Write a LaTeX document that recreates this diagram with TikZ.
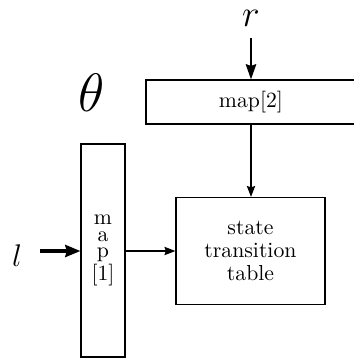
\documentclass[tikz,border=0pt]{standalone}
\usetikzlibrary{arrows.meta,positioning}
\tikzset{
  every picture/.style={line width=0.6pt, line join=miter,
    >={Stealth[length=5pt,width=3.8pt,inset=0.6pt]}},
  % Bausteine
  blk/.style={draw, inner sep=0pt, align=center,
    font=\fontsize{10}{10.5}\selectfont},
  col/.style={blk, font=\fontsize{10}{7.6}\selectfont},
  sym/.style={anchor=base, inner sep=0pt},
  % Pfeile
  flow/.style={->},
  feed/.style={->, line width=0.9pt, >={Stealth[length=7pt,width=4.8pt,inset=0.8pt]}},
  inlet/.style={->, line width=1.4pt, >={Stealth[length=7pt,width=5.6pt,inset=0.8pt]}},
}
\begin{document}
\begin{tikzpicture}[x=0.46pt, y=-0.46pt]
  \useasboundingbox (0,0) rectangle (354,359);
  \clip (0,0) rectangle (354,359);
  % Tabellen
  \node[blk, minimum width=96.6pt, minimum height=20.2pt] (map2) at (251,102) {map[2]};
  \node[blk, minimum width=68.5pt, minimum height=49.2pt] (stt) at (250.5,251) {state\\transition\\table};
  \node[col, minimum width=20.2pt, minimum height=98pt] (map1) at (103,250.5) {m\\a\\p\\{}[1]};
  % Eingaenge
  \node[sym, font=\fontsize{19}{22}\selectfont] (r) at (251,26) {$r$};
  \node[sym, font=\Huge] (theta) at (92,111) {$\theta$};
  \node[sym, font=\Large] (l) at (17,266) {$l$};
  \coordinate (rin) at (251,38);
  \coordinate (lin) at (40,251);
  % Verbindungen
  \draw[feed] (rin) -- (map2.north -| rin);
  \draw[flow] (map2.south -| rin) -- (stt.north -| rin);
  \draw[inlet] (lin) -- (map1.west |- lin);
  \draw[flow] (map1.east |- lin) -- (stt.west |- lin);
\end{tikzpicture}
\end{document}
